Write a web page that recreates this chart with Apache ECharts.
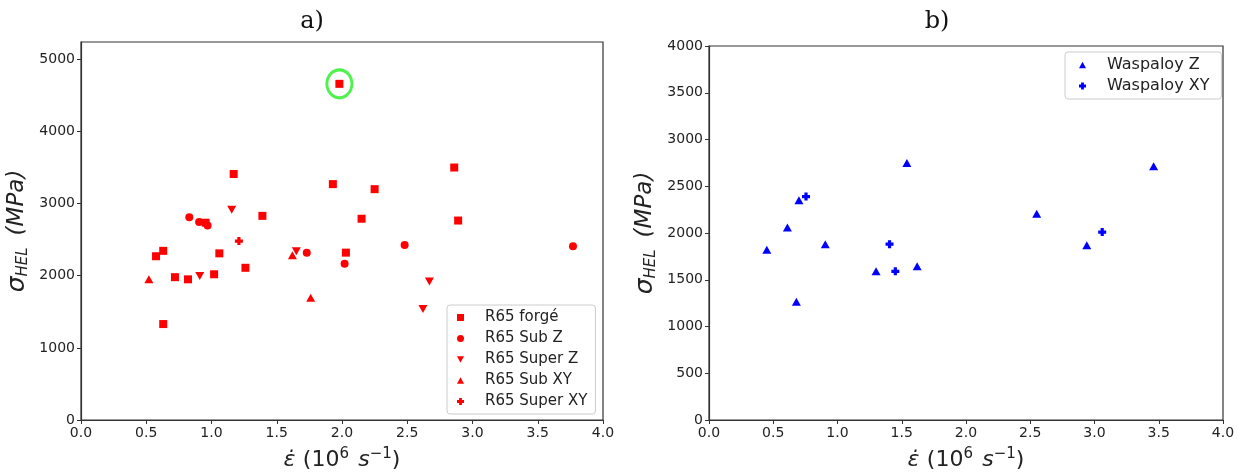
<!DOCTYPE html>
<html>
<head>
<meta charset="utf-8">
<script src="https://cdn.jsdelivr.net/npm/echarts@6/dist/echarts.min.js"></script>
<style>
  html, body { margin: 0; padding: 0; background: #fff; }
  #chart { width: 1242px; height: 476px; }
</style>
</head>
<body>
<div id="chart"></div>
<script>
// a) R65 points [strain rate (10^6 s^-1), sigma HEL (MPa)]
var r65Forge = [
    [1.98, 4660], [1.17, 3410], [1.93, 3270], [2.25, 3200], [2.86, 3500],
    [1.39, 2830], [2.15, 2790], [2.89, 2765], [0.575, 2270], [0.63, 2345],
    [1.06, 2310], [2.03, 2320], [1.26, 2110], [0.72, 1980], [0.82, 1950],
    [1.02, 2020], [0.63, 1330], [0.955, 2735]
];
var r65SubZ = [
    [0.83, 2810], [0.905, 2745], [0.97, 2695], [1.73, 2320],
    [2.02, 2165], [2.48, 2425], [3.77, 2410]
];
var r65SuperZ = [[1.155, 2915], [0.91, 1995], [1.65, 2340], [2.67, 1920], [2.62, 1540]];
var r65SubXY = [[0.52, 1950], [1.62, 2285], [1.76, 1695]];
var r65SuperXY = [[1.21, 2480]];
var outlier = [[1.98, 4660]];

// b) Waspaloy points
var waspZ = [
    [0.45, 1820], [0.61, 2060], [0.70, 2350], [0.68, 1265], [0.905, 1880],
    [1.30, 1590], [1.54, 2750], [1.62, 1645], [2.55, 2205], [2.94, 1870], [3.46, 2715]
];
var waspXY = [[0.755, 2390], [1.405, 1880], [1.45, 1590], [3.06, 2010]];

var xTicks = { min: 0, max: 4, interval: 0.5 };

var plusPath = 'path://M3,0H7V3H10V7H7V10H3V7H0V3H3Z';
var upTri = 'path://M5,0L10,9L0,9Z';
var downTri = 'path://M0,0L10,0L5,9Z';
var txt = '#222';

function xAxisFor(idx) {
    return {
        gridIndex: idx, type: 'value', min: xTicks.min, max: xTicks.max, interval: xTicks.interval,
        name: '{e|ε̇} {n|(10}{sup|6} {i|s}{sup|−1}{n|)}',
        nameLocation: 'middle', nameGap: 27,
        nameTextStyle: {
            rich: {
                e: { fontSize: 22, fontStyle: 'italic', fontFamily: 'DejaVu Sans', color: txt, lineHeight: 26, padding: [0, 4, 0, 0] },
                n: { fontSize: 22, fontFamily: 'DejaVu Sans', color: txt, lineHeight: 26 },
                i: { fontSize: 22, fontStyle: 'italic', fontFamily: 'DejaVu Sans', color: txt, lineHeight: 26, padding: [0, 0, 0, 6] },
                sup: { fontSize: 15, fontFamily: 'DejaVu Sans', color: txt, verticalAlign: 'top', lineHeight: 26, padding: [0, 0, 8, 0] }
            }
        },
        axisLine: { onZero: false, lineStyle: { color: '#333', width: 1.2 } },
        axisTick: { length: 4, lineStyle: { color: '#333' } },
        axisLabel: { color: txt, fontSize: 14, fontFamily: 'DejaVu Sans', margin: 6,
            formatter: function (v) { return v.toFixed(1); } },
        splitLine: { show: false }
    };
}

function yAxisFor(idx, max, interval) {
    return {
        gridIndex: idx, type: 'value', min: 0, max: max, interval: interval,
        name: '{s|σ}{sub|HEL}{p|(MPa)}',
        nameLocation: 'middle', nameRotate: 90, nameGap: 50,
        nameTextStyle: {
            rich: {
                s: { fontSize: 25, fontStyle: 'italic', fontFamily: 'DejaVu Sans', color: txt, lineHeight: 28 },
                sub: { fontSize: 15, fontStyle: 'italic', fontFamily: 'DejaVu Sans', color: txt, verticalAlign: 'bottom', lineHeight: 28, padding: [8, 12, 0, 0] },
                p: { fontSize: 23, fontStyle: 'italic', fontFamily: 'DejaVu Sans', color: txt, lineHeight: 28 }
            }
        },
        axisLine: { show: true, lineStyle: { color: '#333', width: 1.2 } },
        axisTick: { show: true, length: 4, lineStyle: { color: '#333' } },
        axisLabel: { color: txt, fontSize: 14, fontFamily: 'DejaVu Sans', margin: 6,
            showMaxLabel: max % interval === 0,
            formatter: function (v) { return String(v); } },
        splitLine: { show: false }
    };
}

function pts(name, data, color, symbol, size, gi) {
    return {
        name: name, type: 'scatter', xAxisIndex: gi, yAxisIndex: gi,
        data: data, symbol: symbol, symbolSize: size,
        itemStyle: { color: color, opacity: 1 }
    };
}

var legendBase = {
    orient: 'vertical',
    backgroundColor: '#fff',
    borderColor: '#ccc', borderWidth: 1, borderRadius: 3,
    itemWidth: 7, itemHeight: 7, itemGap: 6,
    textStyle: { color: txt, fontSize: 15, fontFamily: 'DejaVu Sans', padding: [0, 0, 0, 16] }
};

var myChart = echarts.init(document.getElementById('chart'));

var option = {
    animation: false,
    backgroundColor: '#fff',
    graphic: [
        { type: 'text', x: 312, y: 22, style: { text: 'a)', fontSize: 24, fontFamily: 'DejaVu Serif', fill: '#111', align: 'center', verticalAlign: 'middle' } },
        { type: 'text', x: 937, y: 22, style: { text: 'b)', fontSize: 24, fontFamily: 'DejaVu Serif', fill: '#111', align: 'center', verticalAlign: 'middle' } }
    ],
    grid: [
        { left: 81, top: 42, width: 522, height: 379, show: true, borderColor: '#333', borderWidth: 1.2, backgroundColor: 'transparent' },
        { left: 709, top: 46, width: 514, height: 375, show: true, borderColor: '#333', borderWidth: 1.2, backgroundColor: 'transparent' }
    ],
    xAxis: [xAxisFor(0), xAxisFor(1)],
    yAxis: [yAxisFor(0, 5240, 1000), yAxisFor(1, 4000, 500)],
    legend: [
        Object.assign({}, legendBase, {
            data: ['R65 forgé', 'R65 Sub Z', 'R65 Super Z', 'R65 Sub XY', 'R65 Super XY'],
            left: 447, top: 305, padding: [5, 8, 5, 10]
        }),
        Object.assign({}, legendBase, {
            data: ['Waspaloy Z', 'Waspaloy XY'],
            left: 1065, top: 52, padding: [5, 12, 5, 14], itemGap: 5,
            textStyle: Object.assign({}, legendBase.textStyle, { fontSize: 16 })
        })
    ],
    series: [
        pts('R65 forgé', r65Forge, '#ff0000', 'rect', 8, 0),
        pts('R65 Sub Z', r65SubZ, '#ff0000', 'circle', 8, 0),
        pts('R65 Super Z', r65SuperZ, '#ff0000', downTri, [9, 8], 0),
        pts('R65 Sub XY', r65SubXY, '#ff0000', upTri, [9, 8], 0),
        pts('R65 Super XY', r65SuperXY, '#ff0000', plusPath, 8, 0),
        {
            name: 'outlier', type: 'scatter', xAxisIndex: 0, yAxisIndex: 0,
            data: outlier, symbol: 'circle', symbolSize: [25, 28], z: 1,
            itemStyle: { color: 'rgba(0,0,0,0)', borderColor: '#22ee22', borderWidth: 3 }
        },
        pts('Waspaloy Z', waspZ, '#0000ff', upTri, [9, 8], 1),
        pts('Waspaloy XY', waspXY, '#0000ff', plusPath, 8, 1)
    ]
};

myChart.setOption(option);
</script>
</body>
</html>
